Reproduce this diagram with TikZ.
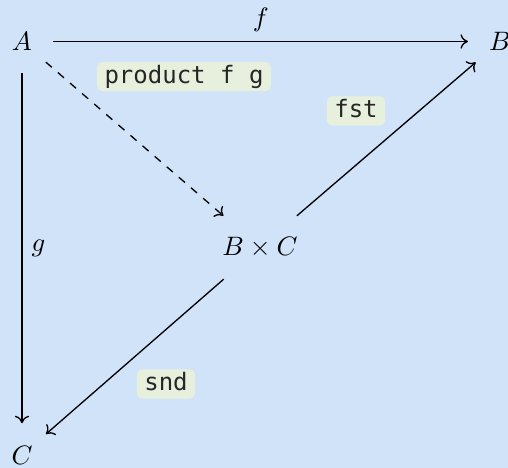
\documentclass[tikz,border=0pt]{standalone}
\usepackage{fontspec}
\setmonofont{DejaVu Sans Mono}
\usepackage{xcolor}
\usepackage{tikz}
\usetikzlibrary{arrows.meta}
\definecolor{bgblue}{RGB}{209,227,248}
\definecolor{lblgreen}{RGB}{230,240,221}
\tikzset{
  obj/.style={circle,inner sep=4.6pt},
  prodobj/.style={rectangle,inner xsep=4pt,inner ysep=7.8pt},
  lbl/.style={fill=lblgreen,rounded corners=2pt,inner xsep=2.8pt,inner ysep=1pt,
    text height=7pt,text depth=2pt,text=black!85,font=\ttfamily\fontsize{9}{11}\selectfont},
}

\begin{document}
\begin{tikzpicture}[x=0.375pt,y=-0.375pt,>={To[length=2.8pt,width=5.4pt]},line width=0.5pt]
  \fill[bgblue] (0,0) rectangle (508,468);
  \useasboundingbox (0,0) rectangle (508,468);
  \node[obj] (A) at (22,41.5) {$A$};
  \node[obj] (B) at (500,41.5) {$B$};
  \node[obj] (C) at (22,455) {$C$};
  \node[prodobj] (BC) at (260,247.5) {$B\times C$};
  \draw[->] (A) -- node[above] (flbl) {$f$} (B);
  \draw[->] (A) -- node[right] (glbl) {$g$} (C);
  \draw[->,dashed] (A) -- (BC);
  \draw[->] (BC) -- (B);
  \draw[->] (BC) -- (C);
  \node[lbl] (prod) at (184,76.5) {product f g};
  \node[lbl] (fst) at (356,111) {fst};
  \node[lbl] (snd) at (166,384) {snd};
\end{tikzpicture}
\end{document}
